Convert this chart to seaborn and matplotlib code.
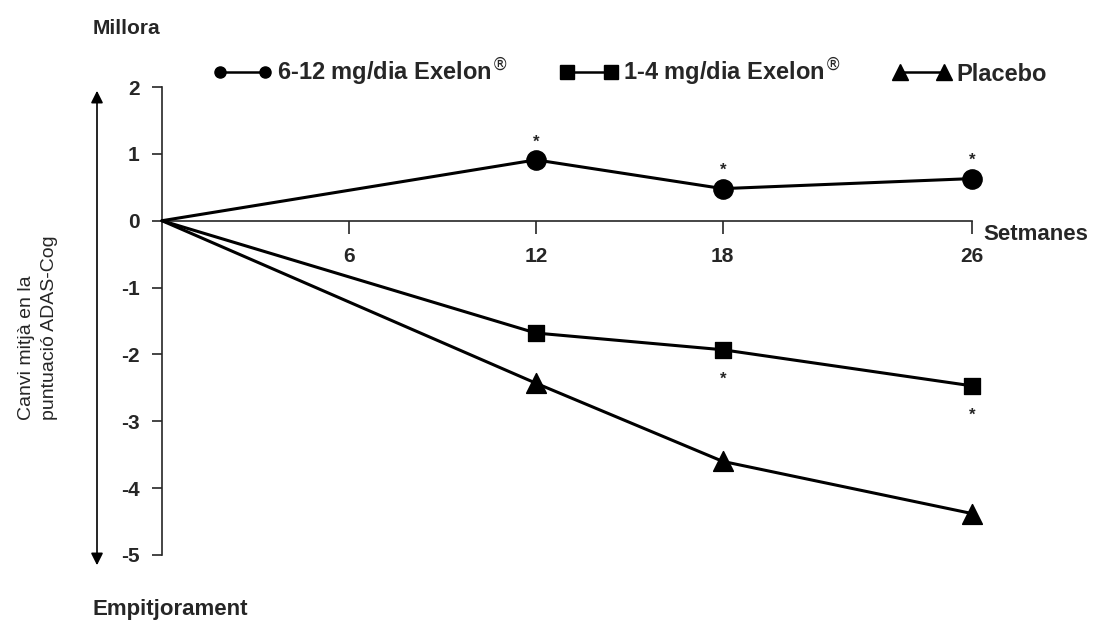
import numpy as np
import pandas as pd
import matplotlib
matplotlib.use("Agg")
import matplotlib.pyplot as plt
from matplotlib.lines import Line2D
import seaborn as sns

# Data
weeks = [0, 12, 18, 26]
high_dose = [0, 0.91, 0.48, 0.63]
low_dose = [0, -1.68, -1.93, -2.47]
placebo = [0, -2.43, -3.60, -4.38]

groups = ["6-12 mg/dia Exelon$^{\\circledR}$", "1-4 mg/dia Exelon$^{\\circledR}$", "Placebo"]
x_ticks = [6, 12, 18, 26]
y_ticks = [2, 1, 0, -1, -2, -3, -4, -5]

# asterisks: (group index, week, above?)
stars = [(0, 12, True), (0, 18, True), (0, 26, True), (1, 18, False), (1, 26, False)]

df = pd.DataFrame({
    "week": weeks * 3,
    "value": high_dose + low_dose + placebo,
    "group": [groups[0]] * 4 + [groups[1]] * 4 + [groups[2]] * 4,
})

sns.set_style("white")
plt.rcParams['font.family'] = ['Liberation Sans', 'DejaVu Sans']
plt.rcParams['mathtext.fontset'] = 'dejavusans'

fig = plt.figure(figsize=(10.95, 6.28), dpi=100)
ax = fig.add_axes([162 / 1095, 73 / 628, 810 / 1095, 468 / 628])

markers = {groups[0]: "o", groups[1]: "s", groups[2]: "^"}
sizes = {groups[0]: 190, groups[1]: 140, groups[2]: 200}
leg_sizes = {groups[0]: 8, groups[1]: 10, groups[2]: 11}
handles = []
for g in groups:
    sub = df[df["group"] == g]
    # line starts at the origin, markers only on the measured weeks
    sns.lineplot(data=sub, x="week", y="value", ax=ax, color="black", lw=2.2,
                 clip_on=False, zorder=3, legend=False)
    sns.scatterplot(data=sub[sub["week"] > 0], x="week", y="value", ax=ax,
                    marker=markers[g], s=sizes[g], color="black", edgecolor="black",
                    clip_on=False, zorder=4, legend=False)
    handles.append(Line2D([0], [0], color="black", lw=1.8, marker=markers[g],
                          markersize=leg_sizes[g], label=g))

ax.set_xlim(0, 26)
ax.set_ylim(-5, 2)
ax.set_xlabel("")
ax.set_ylabel("")

for s in ["top", "right"]:
    ax.spines[s].set_visible(False)
ax.spines["bottom"].set_position(("data", 0))
ax.spines["left"].set_linewidth(1.2)
ax.spines["bottom"].set_linewidth(1.2)

ax.set_xticks(x_ticks)
ax.set_xticklabels([str(t) for t in x_ticks], fontsize=15, fontweight="bold")
ax.set_yticks(y_ticks)
ax.set_yticklabels([str(t) for t in y_ticks], fontsize=15, fontweight="bold")
ax.tick_params(axis="x", direction="out", length=9, width=1.2, pad=10, bottom=True)
ax.tick_params(axis="y", direction="out", length=7, width=1.2, pad=9, left=True)

# asterisks
series = [high_dose, low_dose, placebo]
for gi, wk, above in stars:
    val = series[gi][weeks.index(wk)]
    ax.annotate("*", (wk, val), textcoords="offset points",
                xytext=(0, 13 if above else -21), ha="center", va="center",
                fontsize=12, fontweight="bold")

ax.text(26.35, -0.05, "Setmanes", ha="left", va="top", fontsize=16, fontweight="bold",
        transform=ax.transData, clip_on=False)

# legend across the top
ax.legend(handles=handles, loc="center left", bbox_to_anchor=(192 / 1095, 1 - 72 / 628),
          bbox_transform=fig.transFigure, ncol=3, frameon=False, numpoints=2,
          handlelength=2.5, handletextpad=0.2, columnspacing=2.2,
          prop={"size": 17, "weight": "bold"})

# double arrow on the left
ax.annotate("", xy=(97 / 1095, 1 - 88 / 628), xytext=(97 / 1095, 1 - 568 / 628),
            xycoords="figure fraction", textcoords="figure fraction",
            arrowprops=dict(arrowstyle="<|-|>", lw=1.2, color="black",
                            mutation_scale=18))

fig.text(38 / 1095, 1 - 328 / 628, "Canvi mitjà en la\npuntuació ADAS-Cog",
         rotation=90, ha="center", va="center", multialignment="left",
         fontsize=14, linespacing=1.45)
fig.text(93 / 1095, 1 - 29 / 628, "Millora", ha="left", va="center",
         fontsize=15, fontweight="bold")
fig.text(92 / 1095, 1 - 609 / 628, "Empitjorament", ha="left", va="center",
         fontsize=16, fontweight="bold")

fig.savefig("out.png", dpi=100)
